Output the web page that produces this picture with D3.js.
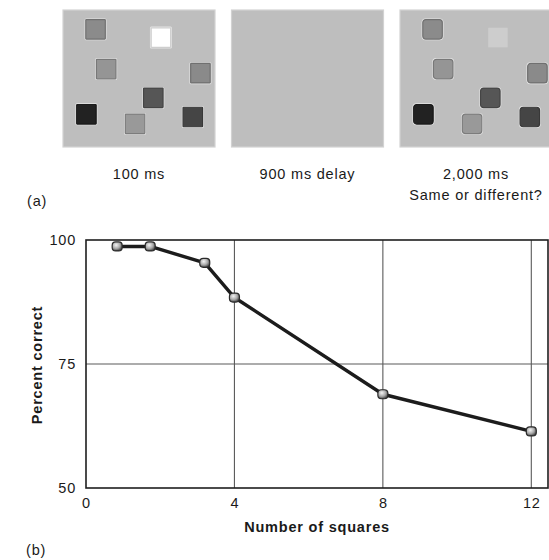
<!DOCTYPE html>
<html>
<head>
<meta charset="utf-8">
<script src="https://cdn.jsdelivr.net/npm/d3@7"></script>
<style>
  html, body { margin: 0; padding: 0; background: #fff; }
  svg { display: block; }
  text { font-family: "Liberation Sans", Arial, Helvetica, sans-serif; fill: #1a1a1a; }
</style>
</head>
<body>
<svg id="fig" width="549" height="560"></svg>
<script>
// ---- (a) change-detection trial sequence ----
const frameNames = ["memory", "delay", "test"];
const frameCaptions = [["100 ms"], ["900 ms delay"], ["2,000 ms", "Same or different?"]];
// coloured squares in the memory array: unit position in the display and grey level
const squareX     = [0.15, 0.58, 0.22, 0.84, 0.53, 0.09, 0.41, 0.79];
const squareY     = [0.07, 0.13, 0.36, 0.39, 0.57, 0.69, 0.76, 0.71];
const squareGrey  = ["#8b8b8b", "#ffffff", "#959595", "#8a8a8a", "#565656", "#232323", "#999999", "#454545"];
// in the test array the white square has turned pale grey
const changedIndex = 1;
const changedGrey  = "#cdcdcd";

// ---- (b) accuracy by set size ----
const setSize        = [0.84, 1.73, 3.2, 4, 8, 12];
const percentCorrect = [98.7, 98.7, 95.4, 88.4, 68.9, 61.4];
const xTicks = [0, 4, 8, 12];
const yTicks = [50, 75, 100];

const svg = d3.select("#fig");
const FONT = "14.5px";
const SPACING = "0.8px";

// ---------- panel (a) ----------
const frameScale = d3.scalePoint().domain(frameNames).range([63, 400]);
const frameW = 152, frameH = 137, frameTop = 10;
const sx = d3.scaleLinear().domain([0, 1]).range([0, frameW]);
const sy = d3.scaleLinear().domain([0, 1]).range([0, frameH]);
const sqSize = 19.5;

const defs = svg.append("defs");
const blur = defs.append("filter").attr("id", "soft").attr("x", "-30%").attr("y", "-30%").attr("width", "160%").attr("height", "160%");
blur.append("feGaussianBlur").attr("stdDeviation", 0.6);

const frames = svg.append("g").selectAll("g.frame")
  .data(frameNames)
  .join("g")
  .attr("class", "frame")
  .attr("transform", d => `translate(${frameScale(d)},${frameTop})`);

frames.append("rect")
  .attr("width", frameW).attr("height", frameH)
  .attr("fill", "#bebebe")
  .attr("stroke", "#d2d2d2").attr("stroke-width", 1.2);

frames.each(function(name) {
  if (name === "delay") return;
  const g = d3.select(this);
  const items = squareX.map((sxv, i) => ({
    x: sxv, y: squareY[i],
    grey: (name === "test" && i === changedIndex) ? changedGrey : squareGrey[i],
    plain: name === "test" && i === changedIndex
  }));
  const sq = g.selectAll("g.sq").data(items).join("g").attr("class", "sq")
    .attr("transform", d => `translate(${sx(d.x)},${sy(d.y)})`)
    .attr("filter", "url(#soft)");
  // pale halo around each square
  sq.filter(d => !d.plain).append("rect")
    .attr("x", -1.2).attr("y", -1.2)
    .attr("width", sqSize + 2.4).attr("height", sqSize + 2.4)
    .attr("rx", name === "test" ? 4 : 1.5)
    .attr("fill", "#e6e6e6");
  sq.append("rect")
    .attr("width", sqSize).attr("height", sqSize)
    .attr("rx", d => d.plain ? 0 : (name === "test" ? 3 : 0.5))
    .attr("fill", d => d.grey)
    .attr("stroke", d => d.plain ? "none" : d3.color(d.grey).darker(0.6))
    .attr("stroke-width", 1.2);
});

const captions = svg.append("g").selectAll("text.cap")
  .data(frameNames)
  .join("text")
  .attr("class", "cap")
  .attr("x", d => frameScale(d) + frameW / 2)
  .attr("y", 179)
  .attr("text-anchor", "middle")
  .style("font-size", FONT).style("letter-spacing", SPACING);
captions.each(function(d, i) {
  d3.select(this).selectAll("tspan")
    .data(frameCaptions[i])
    .join("tspan")
    .attr("x", frameScale(d) + frameW / 2)
    .attr("dy", (t, j) => j === 0 ? 0 : 21)
    .text(t => t);
});

svg.append("text").attr("x", 27).attr("y", 206)
  .style("font-size", FONT).style("letter-spacing", SPACING).text("(a)");

// ---------- panel (b) ----------
const plotLeft = 86, plotRight = 548, plotTop = 240, plotBottom = 488;
const x = d3.scaleLinear().domain([0, 12.45]).range([plotLeft, plotRight]);
const y = d3.scaleLinear().domain([50, 100]).range([plotBottom, plotTop]);

const chart = svg.append("g");

// grid lines
chart.append("g").selectAll("line.vg")
  .data(xTicks.filter(t => t > 0))
  .join("line")
  .attr("x1", d => x(d)).attr("x2", d => x(d))
  .attr("y1", plotTop).attr("y2", plotBottom)
  .attr("stroke", "#5a5a5a").attr("stroke-width", 1.1);
chart.append("g").selectAll("line.hg")
  .data(yTicks.filter(t => t > 50 && t < 100))
  .join("line")
  .attr("x1", plotLeft).attr("x2", plotRight)
  .attr("y1", d => y(d)).attr("y2", d => y(d))
  .attr("stroke", "#5a5a5a").attr("stroke-width", 1.1);

// plot frame
chart.append("rect")
  .attr("x", x(0)).attr("y", y(100))
  .attr("width", x(12.45) - x(0)).attr("height", y(50) - y(100))
  .attr("fill", "none").attr("stroke", "#1e1e1e").attr("stroke-width", 1.6);

// axes (labels only; the frame carries the lines)
const xAxis = d3.axisBottom(x).tickValues(xTicks).tickSize(0).tickPadding(10);
const gx = chart.append("g").attr("transform", `translate(0,${plotBottom})`).call(xAxis);
gx.select(".domain").remove();
gx.selectAll("text").style("font-size", FONT).style("letter-spacing", SPACING)
  .style("font-family", "'Liberation Sans', Arial, sans-serif").attr("fill", "#1a1a1a");

const yAxis = d3.axisLeft(y).tickValues(yTicks).tickSize(0).tickPadding(10);
const gy = chart.append("g").attr("transform", `translate(${plotLeft},0)`).call(yAxis);
gy.select(".domain").remove();
gy.selectAll("text").style("font-size", FONT).style("letter-spacing", SPACING)
  .style("font-family", "'Liberation Sans', Arial, sans-serif").attr("fill", "#1a1a1a");

// axis titles
chart.append("text")
  .attr("x", 317).attr("y", 532)
  .attr("text-anchor", "middle")
  .style("font-size", FONT).style("letter-spacing", SPACING).style("font-weight", "bold")
  .text("Number of squares");
chart.append("text")
  .attr("transform", "translate(42,365) rotate(-90)")
  .attr("text-anchor", "middle")
  .style("font-size", FONT).style("letter-spacing", SPACING).style("font-weight", "bold")
  .text("Percent correct");

svg.append("text").attr("x", 26).attr("y", 555)
  .style("font-size", FONT).style("letter-spacing", SPACING).text("(b)");

// data line and markers
const pts = setSize.map((s, i) => [s, percentCorrect[i]]);
const grad = defs.append("radialGradient").attr("id", "ball").attr("cx", "40%").attr("cy", "35%").attr("r", "65%");
grad.append("stop").attr("offset", "0%").attr("stop-color", "#f4f4f4");
grad.append("stop").attr("offset", "60%").attr("stop-color", "#a8a8a8");
grad.append("stop").attr("offset", "100%").attr("stop-color", "#4a4a4a");

chart.append("path")
  .datum(pts)
  .attr("d", d3.line().x(d => x(d[0])).y(d => y(d[1])))
  .attr("fill", "none")
  .attr("stroke", "#1c1c1c")
  .attr("stroke-width", 3.4)
  .attr("stroke-linejoin", "round");

chart.append("g").selectAll("rect.pt")
  .data(pts)
  .join("rect")
  .attr("x", d => x(d[0]) - 5).attr("y", d => y(d[1]) - 4.5)
  .attr("width", 10).attr("height", 9)
  .attr("rx", 3.5)
  .attr("fill", "url(#ball)")
  .attr("stroke", "#2a2a2a").attr("stroke-width", 1.2);
</script>
</body>
</html>
